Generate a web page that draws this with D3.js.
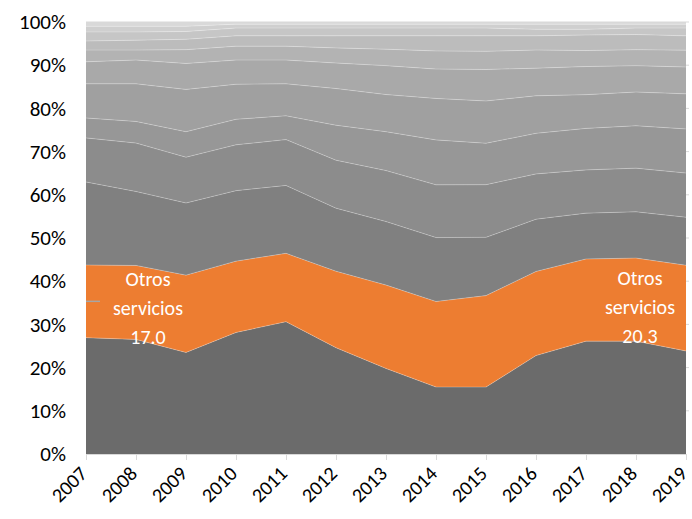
<!DOCTYPE html>
<html>
<head>
<meta charset="utf-8">
<script src="https://cdn.jsdelivr.net/npm/d3@7"></script>
<style>
  body { margin: 0; background: #fff; }
  text { font-family: Carlito, Calibri, Lato, sans-serif; }
</style>
</head>
<body>
<div id="container"></div>
<script>
let width = 692;
let height = 519;

// years on the x axis
let years = [2007, 2008, 2009, 2010, 2011, 2012, 2013, 2014, 2015, 2016, 2017, 2018, 2019];

// layers from bottom to top (share of total, %)
let layerNames = ["s1", "Otros servicios", "s3", "s4", "s5", "s6", "s7", "s8", "s9", "s10", "s11", "s12"];
let s1  = [26.9, 26.5, 23.5, 28.1, 30.6, 24.6, 19.8, 15.5, 15.5, 22.8, 26.1, 26.1, 23.8];
let otros = [16.8, 17.1, 17.9, 16.5, 15.8, 17.7, 19.3, 19.8, 21.2, 19.5, 19.0, 19.2, 19.8];
let s3  = [19.2, 17.1, 16.7, 16.3, 15.7, 14.6, 14.7, 14.8, 13.5, 12.1, 10.6, 10.7, 11.1];
let s4  = [10.2, 11.2, 10.6, 10.6, 10.6, 11.1, 11.8, 12.2, 12.2, 10.5, 10.0, 10.1, 10.2];
let s5  = [4.6, 5.0, 5.9, 5.9, 5.5, 8.1, 9.0, 10.4, 9.6, 9.4, 9.6, 9.8, 10.2];
let s6  = [7.9, 8.7, 9.8, 8.1, 7.4, 8.5, 8.6, 9.6, 9.8, 8.7, 7.8, 7.8, 8.1];
let s7  = [5.1, 5.5, 6.0, 5.6, 5.5, 5.9, 6.7, 6.8, 7.3, 6.4, 6.5, 6.1, 6.2];
let s8  = [2.7, 2.3, 3.2, 3.2, 3.2, 3.5, 3.8, 4.2, 4.2, 4.2, 3.7, 3.7, 3.9];
let s9  = [2.1, 2.3, 2.4, 2.4, 2.4, 2.8, 3.1, 3.5, 3.6, 3.3, 3.6, 3.5, 3.3];
let s10 = [2.1, 1.9, 1.8, 1.8, 1.8, 1.8, 1.8, 1.8, 1.8, 1.5, 1.3, 1.5, 1.8];
let s11 = [1.3, 1.3, 1.2, 0.9, 0.9, 0.9, 0.9, 0.9, 0.9, 1.2, 1.2, 0.9, 0.9];
let s12 = [1.0, 1.0, 1.0, 0.5, 0.5, 0.5, 0.5, 0.5, 0.5, 0.5, 0.5, 0.5, 0.5];

let layerValues = [s1, otros, s3, s4, s5, s6, s7, s8, s9, s10, s11, s12];
let layerColors = ["#6b6b6b", "#ed7d31", "#808080", "#8c8c8c", "#979797", "#a0a0a0",
                   "#a9a9a9", "#b3b3b3", "#bcbcbc", "#c6c6c6", "#cfcfcf", "#d9d9d9"];

// data labels of the orange series
let labelYears = [2007, 2018];
let labelLines = [["Otros", "servicios", "17.0"], ["Otros", "servicios", "20.3"]];

let yTicks = [0, 0.1, 0.2, 0.3, 0.4, 0.5, 0.6, 0.7, 0.8, 0.9, 1];

let margin = {top: 22, right: 6, bottom: 65, left: 86};

let rows = years.map(function (y, i) {
  let r = {year: y};
  layerNames.forEach(function (n, k) { r[n] = layerValues[k][i]; });
  return r;
});

let svg = d3.select("#container")
  .append("svg")
  .attr("width", width)
  .attr("height", height);

let x = d3.scaleLinear()
  .domain([years[0], years[years.length - 1]])
  .range([margin.left, width - margin.right]);

let y = d3.scaleLinear()
  .domain([0, 1])
  .range([height - margin.bottom, margin.top]);

// gridlines (mostly hidden under the areas)
svg.append("g")
  .selectAll("line")
  .data(yTicks.slice(1))
  .enter().append("line")
  .attr("x1", margin.left)
  .attr("x2", width - margin.right + 3)
  .attr("y1", d => y(d))
  .attr("y2", d => y(d))
  .attr("stroke", "#d9d9d9")
  .attr("stroke-width", 1);

let stack = d3.stack()
  .keys(layerNames)
  .offset(d3.stackOffsetExpand);

let series = stack(rows);

let area = d3.area()
  .x(d => x(d.data.year))
  .y0(d => y(d[0]))
  .y1(d => y(d[1]));

svg.append("g")
  .selectAll("path")
  .data(series)
  .enter().append("path")
  .attr("d", area)
  .attr("fill", (d, i) => layerColors[i]);

// faint light lines on top of each layer
let topLine = d3.line()
  .x(d => x(d.data.year))
  .y(d => y(d[1]));

svg.append("g")
  .selectAll("path")
  .data(series.slice(0, series.length - 1))
  .enter().append("path")
  .attr("d", topLine)
  .attr("fill", "none")
  .attr("stroke", "#ffffff")
  .attr("stroke-opacity", 0.35)
  .attr("stroke-width", 0.75);

// x axis
let xAxis = d3.axisBottom(x)
  .tickValues(years)
  .tickFormat(d3.format("d"))
  .tickSize(6)
  .tickSizeOuter(0);

let gx = svg.append("g")
  .attr("transform", `translate(0,${height - margin.bottom})`)
  .call(xAxis);
gx.select(".domain").attr("stroke", "#d9d9d9");
gx.selectAll(".tick line").attr("stroke", "#d9d9d9");
gx.selectAll(".tick text")
  .attr("fill", "#000")
  .style("font-size", "20px")
  .attr("text-anchor", "end")
  .attr("x", 0)
  .attr("y", 0)
  .attr("dy", "0.35em")
  .attr("transform", "translate(-3,16) rotate(-45)");

// y axis (labels only)
let yAxis = d3.axisLeft(y)
  .tickValues(yTicks)
  .tickFormat(d3.format(".0%"))
  .tickSize(0)
  .tickPadding(20);

let gy = svg.append("g")
  .attr("transform", `translate(${margin.left},0)`)
  .call(yAxis);
gy.select(".domain").remove();
gy.selectAll(".tick text")
  .attr("fill", "#000")
  .style("font-size", "21px");

// data labels for "Otros servicios"
let orange = series[1];
labelYears.forEach(function (yr, k) {
  let i = years.indexOf(yr);
  let mid = (orange[i][0] + orange[i][1]) / 2;
  let cx = k === 0 ? x(yr) + 62 : x(yr) + 4;
  let t = svg.append("text")
    .attr("x", cx)
    .attr("y", y(mid) - 22)
    .attr("text-anchor", "middle")
    .attr("fill", "#ffffff")
    .style("font-size", "20px");
  labelLines[k].forEach(function (s, j) {
    t.append("tspan")
      .attr("x", cx)
      .attr("dy", j === 0 ? "0.35em" : "1.45em")
      .text(s);
  });
});

// leader line for the first label
let i0 = years.indexOf(labelYears[0]);
svg.append("line")
  .attr("x1", x(labelYears[0]))
  .attr("x2", x(labelYears[0]) + 14)
  .attr("y1", y((orange[i0][0] + orange[i0][1]) / 2))
  .attr("y2", y((orange[i0][0] + orange[i0][1]) / 2))
  .attr("stroke", "#a6a6a6")
  .attr("stroke-width", 1.5);
</script>
</body>
</html>
